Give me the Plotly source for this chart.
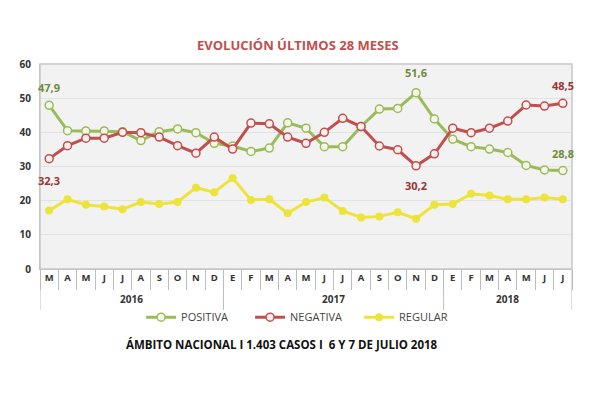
import plotly.graph_objects as go

years = ["2016", "2017", "2018"]
year_counts = [10, 12, 7]
months = ["M", "A", "M", "J", "J", "A", "S", "O", "N", "D",
          "E", "F", "M", "A", "M", "J", "J", "A", "S", "O", "N", "D",
          "E", "F", "M", "A", "M", "J", "J"]

positiva = [47.9, 40.5, 40.4, 40.4, 40.2, 37.6, 40.2, 41.0, 39.9, 36.8,
            36.0, 34.4, 35.4, 42.8, 41.2, 35.8, 35.8, 41.7, 46.8, 47.0, 51.6, 43.9,
            38.0, 35.8, 35.1, 34.1, 30.3, 29.0, 28.8]
negativa = [32.3, 36.1, 38.3, 38.3, 40.0, 39.9, 38.6, 36.1, 33.9, 38.6,
            35.1, 42.7, 42.5, 38.6, 36.8, 40.0, 44.1, 41.7, 36.0, 34.9, 30.2, 33.7,
            41.2, 39.9, 41.2, 43.3, 48.0, 47.7, 48.5]
regular = [17.1, 20.4, 18.8, 18.3, 17.5, 19.6, 19.0, 19.6, 23.8, 22.5,
           26.6, 20.2, 20.4, 16.3, 19.6, 20.9, 17.0, 15.1, 15.4, 16.6, 14.7, 18.8,
           19.0, 22.0, 21.5, 20.4, 20.4, 20.9, 20.4]

# unique category keys, one per month
keys = []
for y, c in zip(years, year_counts):
    for j in range(c):
        keys.append(f"{y}-{j + 1:02d}")

GREEN = "#9bbb59"
RED = "#c0504d"
YELLOW = "#ece43a"
AXC = "#bdbdbd"

fig = go.Figure()
fig.add_trace(go.Scatter(x=keys, y=positiva, name="POSITIVA", mode="lines+markers",
                         line=dict(color=GREEN, width=3),
                         marker=dict(size=8, color="#f4f8ea", line=dict(color=GREEN, width=1.5))))
fig.add_trace(go.Scatter(x=keys, y=negativa, name="NEGATIVA", mode="lines+markers",
                         line=dict(color=RED, width=3),
                         marker=dict(size=8, color="#fbeeee", line=dict(color=RED, width=1.5))))
fig.add_trace(go.Scatter(x=keys, y=regular, name="REGULAR", mode="lines+markers",
                         line=dict(color=YELLOW, width=3),
                         marker=dict(size=8, color=YELLOW)))

def fmt(v):
    return f"{v:.1f}".replace(".", ",")

def lab(i, series, color, dy):
    fig.add_annotation(x=keys[i], y=series[i], xref="x", yref="y", text=fmt(series[i]),
                       showarrow=False, yshift=dy,
                       font=dict(family="Open Sans", size=11, color=color, weight="bold"))

lab(0, positiva, "#6f8b3a", 18)
lab(0, negativa, "#953735", -22)
lab(20, positiva, "#6f8b3a", 20)
lab(20, negativa, "#953735", -20)
lab(28, negativa, "#953735", 18)
lab(28, positiva, "#6f8b3a", 17)

# year labels and year dividers
start = 0
for y, c in zip(years, year_counts):
    fig.add_annotation(x=start + (c - 1) / 2, y=-0.148, xref="x", yref="paper", text=y,
                       showarrow=False, yanchor="middle",
                       font=dict(family="Open Sans", size=10, color="#333333", weight="bold"))
    fig.add_shape(type="line", xref="x", yref="paper", x0=start - 0.5, x1=start - 0.5,
                  y0=0, y1=-0.2, line=dict(color=AXC, width=1))
    start += c
fig.add_shape(type="line", xref="x", yref="paper", x0=start - 0.5, x1=start - 0.5,
              y0=0, y1=-0.2, line=dict(color=AXC, width=1))

fig.add_annotation(text="ÁMBITO NACIONAL I 1.403 CASOS I  6 Y 7 DE JULIO 2018",
                   xref="paper", yref="paper", x=0.455, y=-0.37, yanchor="middle",
                   showarrow=False,
                   font=dict(family="Open Sans", size=11.5, color="#111111", weight="bold"))

fig.update_layout(
    width=600, height=400,
    margin=dict(l=22, r=36, t=56, b=139),
    paper_bgcolor="white", plot_bgcolor="#f2f2f2",
    title=dict(text="EVOLUCIÓN ÚLTIMOS 28 MESES", x=0.483, xanchor="center",
               y=0.9075, yanchor="middle",
               font=dict(family="Open Sans", size=13, color="#c0504d", weight="bold")),
    showlegend=True,
    legend=dict(orientation="h", x=0.19, xanchor="left", y=-0.235, yanchor="middle",
                font=dict(family="Open Sans", size=11, color="#444444"),
                itemwidth=30, entrywidth=64, entrywidthmode="pixels",
                bgcolor="rgba(0,0,0,0)"),
    font=dict(family="Open Sans"),
)
fig.update_yaxes(range=[0, 60], dtick=10, showgrid=True, gridcolor="#e2e2e2",
                 zeroline=False, showline=True, linecolor=AXC,
                 tickfont=dict(size=10, color="#333333", weight="bold"),
                 ticks="", ticklabelstandoff=6)
fig.update_xaxes(type="category", tickmode="array", tickvals=keys, ticktext=months,
                 tickangle=0, range=[-0.5, len(keys) - 0.5],
                 showgrid=False, showline=True, linecolor=AXC,
                 tickson="boundaries", ticks="outside", ticklen=20, tickcolor=AXC,
                 tickfont=dict(size=9.5, color="#333333", weight="bold"))
fig.add_shape(type="rect", xref="paper", yref="paper", x0=0, y0=0, x1=1, y1=1,
              line=dict(color="#c8c8c8", width=1.5), layer="above")

fig.write_html("out.html")
